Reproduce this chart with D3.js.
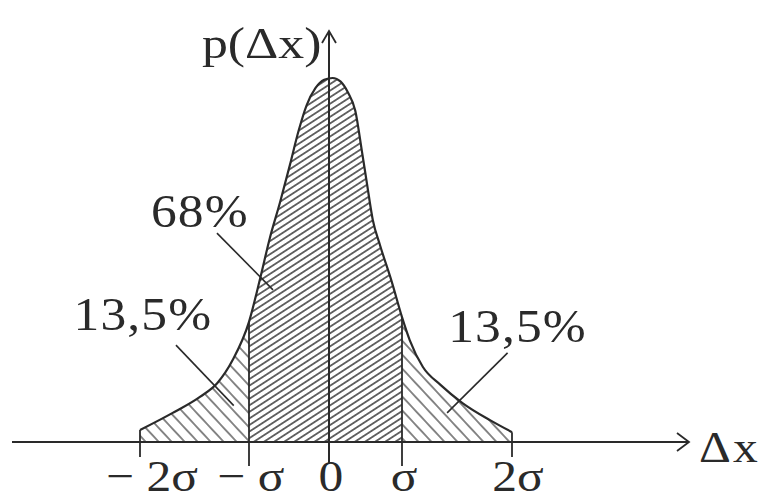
<!DOCTYPE html>
<html>
<head>
<meta charset="utf-8">
<script src="https://cdn.jsdelivr.net/npm/d3@7"></script>
<style>
  html, body { margin: 0; padding: 0; background: #fff; }
  text { font-family: "Liberation Serif", "Times New Roman", serif; fill: #2a2a2a; }
</style>
</head>
<body>
<svg id="chart"></svg>
<script>
// curve (x in sigma units, y relative to peak)
var curveX = [-2.0, -1.70, -1.45, -1.29, -1.15, -1.0, -0.86, -0.74, -0.61, -0.49, -0.38, -0.28, -0.17, -0.06, 0.05,
              0.16, 0.26, 0.36, 0.45, 0.52, 0.60, 0.70, 0.86, 1.0, 1.07, 1.19, 1.35, 1.55, 1.80, 2.0];
var curveY = [0.033, 0.080, 0.124, 0.162, 0.225, 0.33, 0.45, 0.56, 0.66, 0.76, 0.855, 0.925, 0.972, 0.995, 1.0,
              0.99, 0.96, 0.91, 0.80, 0.71, 0.61, 0.54, 0.44, 0.343, 0.28, 0.206, 0.157, 0.107, 0.060, 0.027];

var tickValues = [-2, -1, 0, 1, 2];
var tickLabels = ["\u2212 2\u03c3", "\u2212 \u03c3", "0", "\u03c3", "2\u03c3"];

var bands = [
    {from: -2, to: -1, label: "13,5%", lx: -2.61, ly: 0.308, line: [[-1.67, 0.266], [-1.14, 0.10]], pattern: "hatch-side"},
    {from: -1, to: 1, label: "68%", lx: -1.9, ly: 0.59, line: [[-1.294, 0.574], [-0.70, 0.418]], pattern: "hatch-mid"},
    {from: 1, to: 2, label: "13,5%", lx: 1.42, ly: 0.275, line: [[1.96, 0.245], [1.41, 0.08]], pattern: "hatch-side"}
];

var axisNames = {x: "\u0394x", y: "p(\u0394x)"};

var width = 767, height = 502;
var ink = "#2a2a2a";

var points = curveX.map(function(x, i) { return {x: x, y: curveY[i]}; });

var svg = d3.select("#chart")
    .attr("width", width)
    .attr("height", height);

// hand drawn sketch: sigma marks are not evenly spaced
var x = d3.scaleLinear()
    .domain([-2, -1, 0, 1, 2])
    .range([140, 249, 329, 402, 512]);

var y = d3.scaleLinear()
    .domain([0, 1])
    .range([442, 78]);

var defs = svg.append("defs");

function hatch(id, gap, angle, sw) {
    var p = defs.append("pattern")
        .attr("id", id)
        .attr("patternUnits", "userSpaceOnUse")
        .attr("width", 20)
        .attr("height", gap)
        .attr("patternTransform", "rotate(" + angle + ")");
    p.append("line")
        .attr("x1", 0).attr("x2", 20)
        .attr("y1", gap / 2).attr("y2", gap / 2)
        .attr("stroke", "#3a3a3a")
        .attr("stroke-width", sw);
}
hatch("hatch-mid", 5.5, -33, 1.5);
hatch("hatch-side", 9.5, 47, 1.2);

// scanned lettering is wide: stretch glyphs sideways
function wide(sel, tx, ty, sx) {
    sel.attr("x", 0).attr("y", 0)
        .attr("transform", (d, i) => "translate(" + tx(d, i) + "," + ty(d, i) + ") scale(" + sx + ",1)");
}

var area = d3.area()
    .x(d => x(d.x))
    .y0(y(0))
    .y1(d => y(d.y))
    .curve(d3.curveMonotoneX);

var line = d3.line()
    .x(d => x(d.x))
    .y(d => y(d.y))
    .curve(d3.curveMonotoneX);

defs.append("clipPath")
    .attr("id", "under")
    .append("path")
    .attr("d", area(points));

svg.append("g")
    .attr("clip-path", "url(#under)")
    .selectAll("rect")
    .data(bands)
    .enter()
    .append("rect")
        .attr("x", d => x(d.from))
        .attr("width", d => x(d.to) - x(d.from))
        .attr("y", y(1.05))
        .attr("height", y(0) - y(1.05))
        .attr("fill", d => "url(#" + d.pattern + ")");

// x axis with open arrow
svg.append("line")
    .attr("x1", 12).attr("x2", 689)
    .attr("y1", y(0)).attr("y2", y(0))
    .attr("stroke", ink).attr("stroke-width", 2);
svg.append("path")
    .attr("d", "M677," + (y(0) - 9) + "L689," + y(0) + "L677," + (y(0) + 9))
    .attr("fill", "none").attr("stroke", ink).attr("stroke-width", 1.8);

// y axis with open arrow
svg.append("line")
    .attr("x1", x(0)).attr("x2", x(0))
    .attr("y1", 463).attr("y2", 31)
    .attr("stroke", ink).attr("stroke-width", 2);
svg.append("path")
    .attr("d", "M" + (x(0) - 7) + ",43L" + x(0) + ",31L" + (x(0) + 7) + ",43")
    .attr("fill", "none").attr("stroke", ink).attr("stroke-width", 1.8);

// sigma marks, running up to the curve
svg.append("g")
    .selectAll("line")
    .data(tickValues.filter(v => v !== 0))
    .enter()
    .append("line")
        .attr("x1", v => x(v)).attr("x2", v => x(v))
        .attr("y1", v => Math.abs(v) === 1 ? 466 : 457)
        .attr("y2", v => y(curveY[curveX.indexOf(v)]))
        .attr("stroke", ink)
        .attr("stroke-width", 1.8);

svg.append("path")
    .attr("d", line(points))
    .attr("fill", "none")
    .attr("stroke", ink)
    .attr("stroke-width", 2.2);

svg.append("g")
    .selectAll("text")
    .data(tickValues)
    .enter()
    .append("text")
        .attr("text-anchor", "middle")
        .style("font-size", "45px")
        .text((v, i) => tickLabels[i])
        .call(wide, (v, i) => x(v) + (i === 0 ? 12 : i === 4 ? 6 : 2), () => 491, 1.1);

// percentage labels with leader lines
svg.append("g")
    .selectAll("line")
    .data(bands)
    .enter()
    .append("line")
        .attr("x1", d => x(d.line[0][0])).attr("y1", d => y(d.line[0][1]))
        .attr("x2", d => x(d.line[1][0])).attr("y2", d => y(d.line[1][1]))
        .attr("stroke", ink)
        .attr("stroke-width", 1.6);

svg.append("g")
    .selectAll("text")
    .data(bands)
    .enter()
    .append("text")
        .style("font-size", "46px")
        .style("letter-spacing", "1px")
        .text(d => d.label)
        .call(wide, d => x(d.lx), d => y(d.ly), 1.12);

svg.append("text")
    .datum(axisNames.x)
    .style("font-size", "45px")
    .style("letter-spacing", "2px")
    .text(d => d)
    .call(wide, () => 699, () => 462, 1.1);

svg.append("text")
    .datum(axisNames.y)
    .style("font-size", "45px")
    .text(d => d)
    .call(wide, () => 202, () => 58, 1.15);
</script>
</body>
</html>
